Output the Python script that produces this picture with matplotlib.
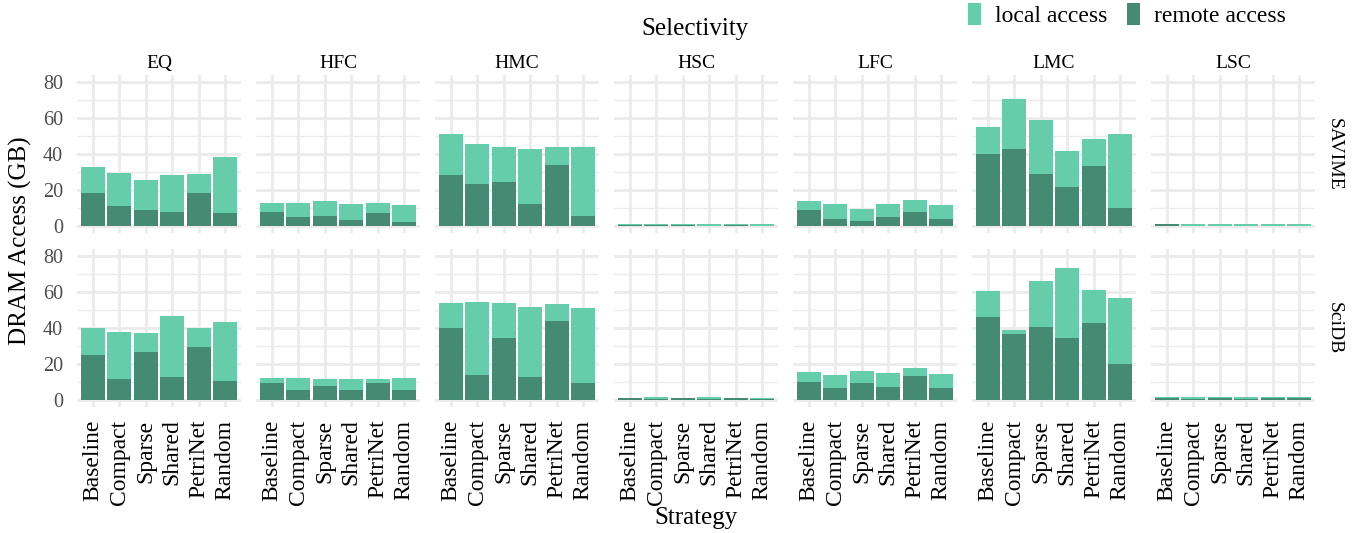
import matplotlib.pyplot as plt
import numpy as np
from matplotlib.patches import Patch

plt.rcParams['font.family'] = ['Liberation Serif', 'DejaVu Serif']

strategies = ['Baseline', 'Compact', 'Sparse', 'Shared', 'PetriNet', 'Random']
selectivities = ['EQ', 'HFC', 'HMC', 'HSC', 'LFC', 'LMC', 'LSC']
systems = ['SAVIME', 'SciDB']

# total height of each bar (local + remote), GB
savime_total = [
    [32.6, 29.3, 25.4, 28.2, 28.7, 38.2],
    [12.6, 12.6, 13.7, 12.0, 13.1, 11.5],
    [50.9, 45.4, 43.7, 42.6, 43.7, 43.7],
    [1.0, 1.0, 1.0, 1.0, 1.0, 1.0],
    [13.7, 12.0, 9.3, 12.0, 14.3, 11.5],
    [54.8, 70.4, 58.7, 41.5, 48.1, 50.9],
    [1.0, 1.0, 1.0, 1.0, 1.0, 1.0],
]
savime_remote = [
    [18.2, 10.9, 9.2, 8.1, 18.2, 7.0],
    [7.6, 4.8, 5.4, 3.2, 7.0, 2.0],
    [28.1, 23.1, 24.3, 12.0, 33.7, 5.4],
    [0.6, 0.5, 0.6, 0.2, 0.6, 0.2],
    [8.7, 3.7, 2.6, 4.8, 7.6, 3.7],
    [39.8, 42.6, 28.7, 21.5, 33.1, 9.8],
    [0.9, 0.2, 0.2, 0.2, 0.2, 0.2],
]
scidb_total = [
    [39.8, 37.6, 37.0, 46.5, 39.8, 43.1],
    [12.0, 12.0, 11.5, 11.5, 11.5, 12.0],
    [53.7, 54.3, 53.7, 51.5, 53.1, 50.9],
    [0.9, 1.5, 0.9, 1.5, 0.9, 0.9],
    [15.4, 13.7, 15.9, 14.8, 17.6, 14.3],
    [60.4, 38.7, 65.9, 73.1, 60.9, 56.5],
    [1.5, 1.5, 1.5, 1.5, 1.5, 1.5],
]
scidb_remote = [
    [24.8, 11.5, 26.5, 12.6, 29.3, 10.4],
    [9.3, 5.4, 7.6, 5.4, 9.3, 5.4],
    [39.8, 13.7, 34.3, 12.6, 43.7, 9.3],
    [0.9, 0.4, 0.9, 0.4, 0.9, 0.4],
    [9.8, 6.5, 9.3, 7.0, 13.1, 6.5],
    [45.9, 36.5, 40.4, 34.3, 42.6, 19.8],
    [1.1, 0.6, 1.1, 0.6, 1.1, 1.1],
]

local_col = '#66CDAA'
remote_col = '#458B74'
grid_col = '#EBEBEB'

fig, axes = plt.subplots(2, 7, figsize=(13.58, 5.33), dpi=100, sharey=True)
fig.subplots_adjust(left=77/1358, right=1315/1358, top=1-75/533, bottom=1-407/533,
                    wspace=15/164, hspace=15/158)

data = {'SAVIME': (savime_total, savime_remote), 'SciDB': (scidb_total, scidb_remote)}
x = np.arange(len(strategies))

for r, system in enumerate(systems):
    total, remote = data[system]
    for c, sel in enumerate(selectivities):
        ax = axes[r, c]
        tot = np.array(total[c])
        rem = np.array(remote[c])
        ax.bar(x, rem, width=0.9, color=remote_col, zorder=3)
        ax.bar(x, tot - rem, bottom=rem, width=0.9, color=local_col, zorder=3)
        ax.set_xlim(-0.6, 5.6)
        ax.set_ylim(-4.1, 83.9)
        ax.set_yticks([0, 20, 40, 60, 80])
        ax.set_yticks([10, 30, 50, 70], minor=True)
        ax.set_xticks(x)
        ax.grid(which='major', color=grid_col, linewidth=2.0, zorder=0)
        ax.grid(which='minor', axis='y', color=grid_col, linewidth=1.0, zorder=0)
        for s in ax.spines.values():
            s.set_visible(False)
        ax.tick_params(which='both', length=0)
        ax.tick_params(axis='y', labelsize=14.5, labelcolor='#4D4D4D', pad=10)
        if r == 1:
            ax.set_xticklabels(strategies, rotation=90, fontsize=17, va='top', ha='center')
            ax.tick_params(axis='x', pad=9)
        else:
            ax.set_xticklabels([])
            ax.set_title(sel, fontsize=14, pad=5)
        if c == 6:
            ax.text(1.065, 0.5, system, transform=ax.transAxes, rotation=-90,
                    ha='left', va='center', fontsize=14)

fig.text(20/1358, 1-241/533, 'DRAM Access (GB)', rotation=90, ha='center', va='center', fontsize=18)
fig.text(696/1358, 1-518/533, 'Strategy', ha='center', va='center', fontsize=18)
fig.text(695/1358, 1-29/533, 'Selectivity', ha='center', va='center', fontsize=18)

handles = [Patch(facecolor=local_col, label='local access'),
           Patch(facecolor=remote_col, label='remote access')]
fig.legend(handles=handles, loc='center', bbox_to_anchor=(1127/1358, 1-15/533), ncol=2,
           frameon=False, fontsize=17, handlelength=0.55, handleheight=1.1,
           handletextpad=0.6, columnspacing=0.8)

fig.savefig('out.png', dpi=100)
